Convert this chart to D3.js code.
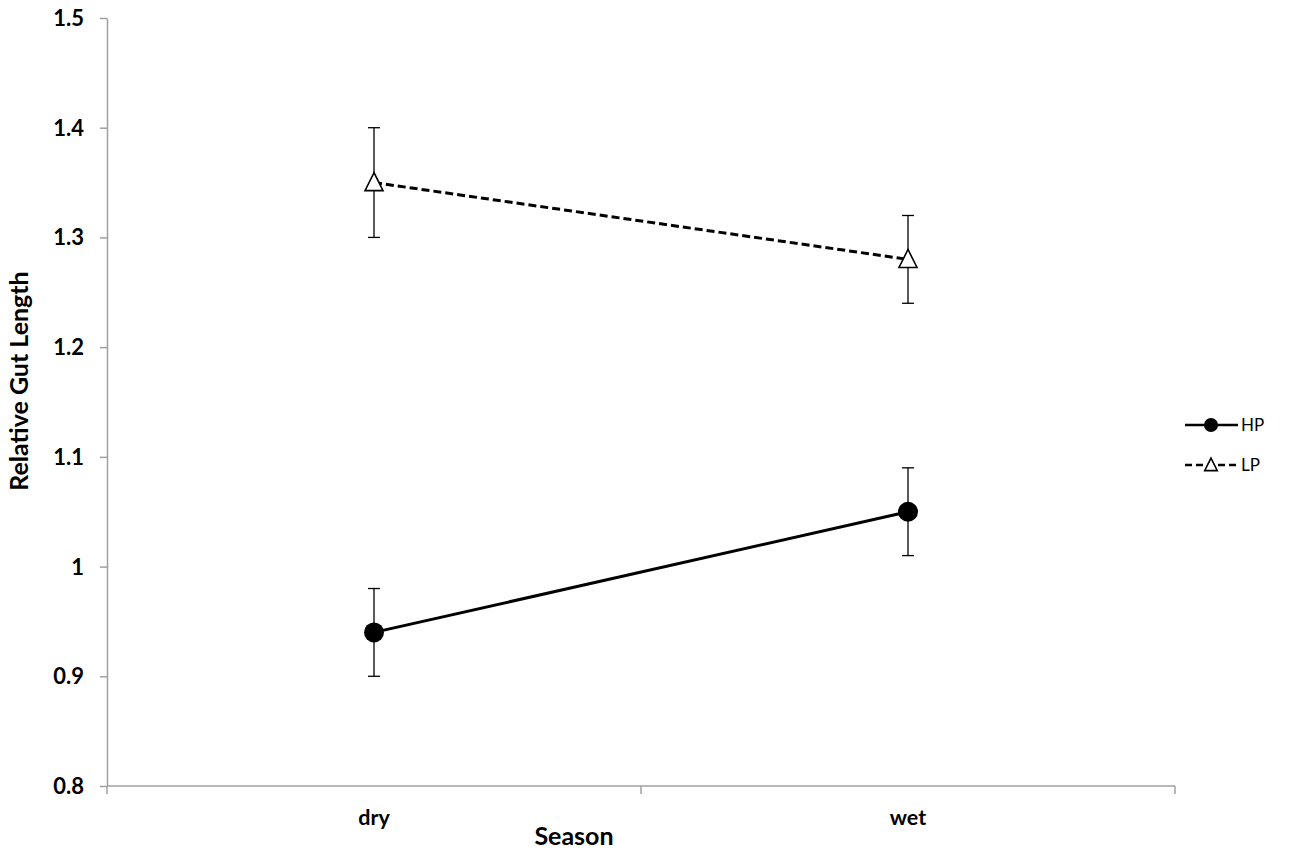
<!DOCTYPE html>
<html><head><meta charset="utf-8">
<script src="https://cdn.jsdelivr.net/npm/d3@7"></script>
<style>body{margin:0;background:#fff}</style>
</head><body>
<svg id="c" width="1293" height="852"></svg>
<script>
const categories = ["dry", "wet"];
const seriesNames = ["HP", "LP"];
const hpValues = [0.94, 1.05];
const hpErrors = [0.04, 0.04];
const lpValues = [1.35, 1.28];
const lpErrors = [0.05, 0.04];
const yTicks = [0.8, 0.9, 1.0, 1.1, 1.2, 1.3, 1.4, 1.5];
const yTickLabels = ["0.8", "0.9", "1", "1.1", "1.2", "1.3", "1.4", "1.5"];

(function () {
const svg = d3.select("#c");
const mLeft = 107, mRight = 1175, mTop = 18, mBottom = 786;
const axisColor = "#a0a0a0";
const font = "Lato, 'Open Sans', sans-serif";

const x = d3.scaleBand().domain(categories).range([mLeft, mRight]).padding(0);
const y = d3.scaleLinear().domain([0.8, 1.5]).range([mBottom, mTop]);

// Y axis
const yAxis = d3.axisLeft(y).tickValues(yTicks).tickSize(7).tickSizeOuter(0)
  .tickFormat((d, i) => yTickLabels[i]);
const gy = svg.append("g").attr("transform", `translate(${mLeft},0)`).call(yAxis);
gy.select(".domain").attr("stroke", axisColor).attr("stroke-width", 1.5);
gy.selectAll(".tick line").attr("stroke", axisColor).attr("stroke-width", 1.5);
gy.selectAll(".tick text").attr("x", -23).attr("dy", "0.34em").attr("fill", "#000")
  .style("font-family", font).style("font-size", "22px").style("font-weight", "bold");

// X axis
const gx = svg.append("g").attr("transform", `translate(0,${mBottom})`);
gx.append("line").attr("x1", mLeft).attr("x2", mRight).attr("y1", 0).attr("y2", 0)
  .attr("stroke", axisColor).attr("stroke-width", 1.5);
const boundaries = [mLeft].concat(categories.map(c => x(c) + x.bandwidth()));
gx.selectAll(".xt").data(boundaries).enter().append("line")
  .attr("x1", d => d).attr("x2", d => d).attr("y1", 0).attr("y2", 8)
  .attr("stroke", axisColor).attr("stroke-width", 1.5);
gx.selectAll(".xl").data(categories).enter().append("text")
  .attr("x", d => x(d) + x.bandwidth() / 2).attr("y", 39)
  .attr("text-anchor", "middle").attr("fill", "#000")
  .style("font-family", font).style("font-size", "21.5px").style("font-weight", "bold")
  .text(d => d);

// Axis titles
svg.append("text").attr("x", 574).attr("y", 845)
  .attr("text-anchor", "middle").style("font-family", font).style("font-size", "25px")
  .style("font-weight", "bold").text("Season");
svg.append("text").attr("transform", "translate(28,381) rotate(-90)")
  .attr("text-anchor", "middle").style("font-family", font).style("font-size", "25px")
  .style("font-weight", "bold").text("Relative Gut Length");

const cx = c => x(c) + x.bandwidth() / 2;
const line = d3.line().x(d => cx(d.c)).y(d => y(d.v));

function drawSeries(vals, errs, dashed, marker) {
  const data = categories.map((c, i) => ({ c, v: vals[i], e: errs[i] }));
  const g = svg.append("g");
  data.forEach(d => {
    g.append("line").attr("x1", cx(d.c)).attr("x2", cx(d.c))
      .attr("y1", y(d.v - d.e)).attr("y2", y(d.v + d.e)).attr("stroke", "#000").attr("stroke-width", 1.3);
    [d.v - d.e, d.v + d.e].forEach(v => {
      g.append("line").attr("x1", cx(d.c) - 6).attr("x2", cx(d.c) + 6)
        .attr("y1", y(v)).attr("y2", y(v)).attr("stroke", "#000").attr("stroke-width", 1.3);
    });
  });
  g.append("path").datum(data).attr("d", line).attr("fill", "none")
    .attr("stroke", "#000").attr("stroke-width", 3)
    .attr("stroke-dasharray", dashed ? "8,4" : null);
  data.forEach(d => marker(g, cx(d.c), y(d.v), 1));
}

function circleMarker(g, px, py, s) {
  g.append("circle").attr("cx", px).attr("cy", py).attr("r", 10 * s).attr("fill", "#000");
}
function triMarker(g, px, py, s) {
  const w = 9 * s, h = 18 * s;
  g.append("path").attr("d", `M${px},${py - h * 0.55} L${px + w},${py + h * 0.45} L${px - w},${py + h * 0.45} Z`)
    .attr("fill", "#fff").attr("stroke", "#000").attr("stroke-width", 1.6);
}

drawSeries(hpValues, hpErrors, false, circleMarker);
drawSeries(lpValues, lpErrors, true, triMarker);

// Legend
const legend = [
  { name: seriesNames[0], dashed: false, marker: circleMarker, y: 425 },
  { name: seriesNames[1], dashed: true, marker: triMarker, y: 465 }
];
legend.forEach(l => {
  const g = svg.append("g");
  g.append("line").attr("x1", 1185).attr("x2", 1238).attr("y1", l.y).attr("y2", l.y)
    .attr("stroke", "#000").attr("stroke-width", 2.5)
    .attr("stroke-dasharray", l.dashed ? "7,4" : null);
  l.marker(g, 1211, l.y, 0.7);
  g.append("text").attr("x", 1241).attr("y", l.y + 6).style("font-family", font)
    .style("font-size", "17px").text(l.name);
});
})();
</script>
</body></html>
